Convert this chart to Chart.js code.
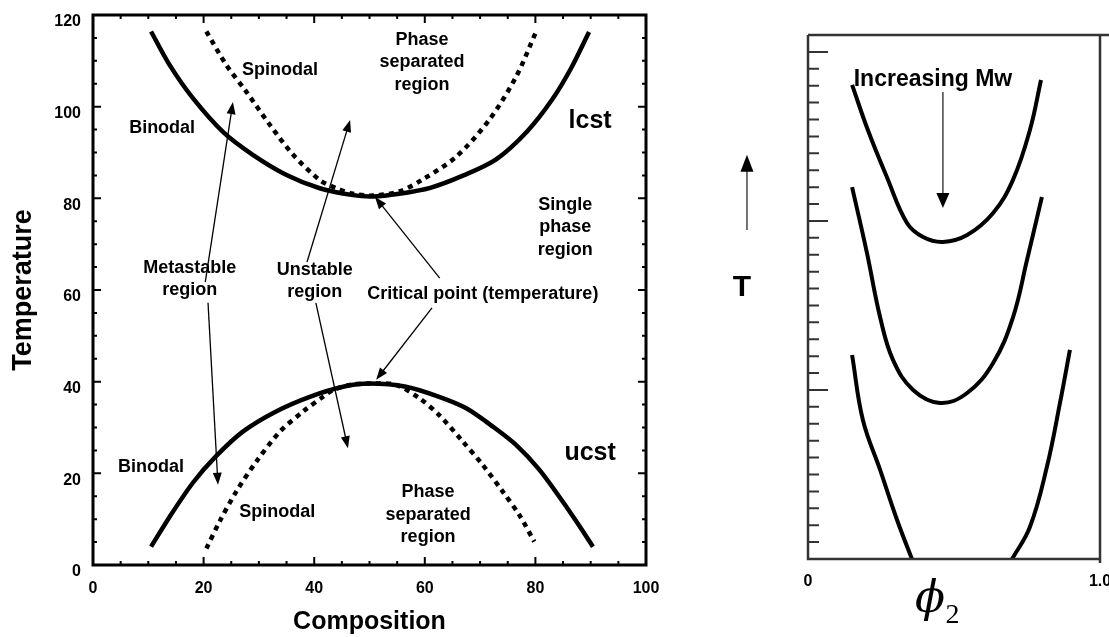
<!DOCTYPE html>
<html>
<head>
<meta charset="utf-8">
<script src="https://cdn.jsdelivr.net/npm/chart.js@4.4.0/dist/chart.umd.min.js"></script>
<style>
html,body{margin:0;padding:0;background:#fff;overflow:hidden;width:1109px;height:637px}
#left{position:absolute;left:0;top:0}
#right{position:absolute;left:700px;top:0}
</style>
</head>
<body>
<canvas id="left" width="700" height="637"></canvas>
<canvas id="right" width="420" height="637"></canvas>
<script>
// tick labels
const compTicks = [0, 20, 40, 60, 80, 100];
const tempTicks = [0, 20, 40, 60, 80, 100, 120];
const phiTicks = ['0', '1.0'];

// left panel curves: [composition, temperature]
const lcstBinodal = [[10.5,116.4],[13.9,109.0],[18.1,101.8],[23.5,94.5],[28.9,89.5],[35.0,85.1],[41.0,82.2],[47.0,80.7],[50.6,80.4],[55.4,81.0],[61,82.3],[67,85.0],[72.9,88.5],[78.5,94.6],[83.0,101.5],[86.5,108.5],[89.7,116.3]];
const lcstSpinodal = [[20.5,116.4],[24.1,109.1],[27.7,103.3],[32.0,96.0],[36.2,89.5],[41.0,84.0],[44.0,82.2],[47,81.0],[50.6,80.6],[55.4,81.5],[59.6,84.1],[65.7,89.1],[71.7,97.2],[76.5,106.5],[80.1,116.3]];
const ucstBinodal = [[10.5,4.0],[13.9,10.6],[18.1,18.0],[22.3,23.8],[27.1,29.1],[33.1,33.5],[39.2,36.7],[45.2,38.9],[50,39.6],[56.6,38.9],[62.6,36.7],[67.5,34.2],[72.3,30.2],[76.5,26.2],[80.7,20.8],[84.9,13.9],[87.9,8.6],[90.4,4.0]];
const ucstSpinodal = [[20.5,3.6],[22.9,9.5],[25.9,16.0],[29.5,22.5],[33.8,29.1],[38.0,33.5],[41.6,36.7],[43.4,38.2],[47,39.4],[50.5,39.6],[54.8,39.3],[59.0,36.4],[62.6,32.7],[66.9,26.9],[70.5,21.8],[74.1,16.0],[77.1,10.9],[79.8,5.1]];

// right panel curves: [phi2, T]
const curveLowMw = [[0.151,2.805],[0.205,2.538],[0.27,2.26],[0.339,1.988],[0.394,1.905],[0.462,1.876],[0.545,1.917],[0.634,2.047],[0.702,2.243],[0.76,2.538],[0.798,2.834]];
const curveMidMw = [[0.151,2.20],[0.202,1.81],[0.247,1.43],[0.291,1.178],[0.36,1.0],[0.452,0.923],[0.545,0.982],[0.634,1.16],[0.702,1.43],[0.75,1.769],[0.801,2.142]];
const curveHighMwL = [[0.151,1.207],[0.188,0.822],[0.247,0.527],[0.305,0.231],[0.356,0]];
const curveHighMwR = [[0.699,0],[0.76,0.189],[0.818,0.544],[0.863,0.923],[0.897,1.237]];

// annotations (data units)
const notesLeft = [
  {text:['Spinodal'], x:33.8, y:108.0, size:18},
  {text:['Binodal'], x:12.5, y:95.4, size:18},
  {text:['Phase','separated','region'], x:59.5, y:114.6, size:18},
  {text:['lcst'], x:89.9, y:96.9, size:25},
  {text:['Single','phase','region'], x:85.4, y:78.6, size:18},
  {text:['Metastable','region'], x:17.5, y:64.8, size:18},
  {text:['Unstable','region'], x:40.1, y:64.4, size:18},
  {text:['Critical point (temperature)'], x:70.5, y:59.1, size:18},
  {text:['Binodal'], x:10.5, y:21.4, size:18},
  {text:['Spinodal'], x:33.3, y:11.6, size:18},
  {text:['Phase','separated','region'], x:60.6, y:15.9, size:18},
  {text:['ucst'], x:89.9, y:24.4, size:25}
];
const arrowsLeft = [
  [20.3,61.7,25.3,101.0],[20.8,57.2,22.6,17.5],
  [38.7,66.1,46.5,97.1],[40.3,57.2,46.1,25.5],
  [62.7,62.6,51.0,80.3],[61.3,56.1,51.2,40.4]
];

const FONT = '"Liberation Sans", Arial, sans-serif';

function pts(arr) {
  return arr.map(p => ({x: p[0], y: p[1]}));
}

function arrow(ctx, x1, y1, x2, y2, len, half) {
  const a = Math.atan2(y2 - y1, x2 - x1);
  const c = Math.cos(a), s = Math.sin(a);
  ctx.beginPath();
  ctx.moveTo(x1, y1);
  ctx.lineTo(x2 - c * len * 0.8, y2 - s * len * 0.8);
  ctx.stroke();
  ctx.beginPath();
  ctx.moveTo(x2, y2);
  ctx.lineTo(x2 - len * c + half * s, y2 - len * s - half * c);
  ctx.lineTo(x2 - len * c - half * s, y2 - len * s + half * c);
  ctx.closePath();
  ctx.fill();
}

const leftDeco = {
  id: 'leftDeco',
  afterDraw(chart) {
    const {ctx, chartArea: a, scales: {x, y}} = chart;
    ctx.save();
    ctx.strokeStyle = '#000';
    ctx.lineWidth = 3;
    ctx.strokeRect(a.left, a.top, a.right - a.left, a.bottom - a.top);
    ctx.lineWidth = 2;
    ctx.beginPath();
    x.ticks.forEach(t => {
      const px = x.getPixelForValue(t.value);
      const len = compTicks.includes(t.value) ? 8 : 4;
      ctx.moveTo(px, a.bottom); ctx.lineTo(px, a.bottom - len);
      ctx.moveTo(px, a.top); ctx.lineTo(px, a.top + len);
    });
    y.ticks.forEach(t => {
      const py = y.getPixelForValue(t.value);
      const len = tempTicks.includes(t.value) ? 8 : 4;
      ctx.moveTo(a.left, py); ctx.lineTo(a.left + len, py);
      ctx.moveTo(a.right, py); ctx.lineTo(a.right - len, py);
    });
    ctx.stroke();

    ctx.fillStyle = '#000';
    ctx.textAlign = 'center';
    ctx.textBaseline = 'middle';
    notesLeft.forEach(n => {
      ctx.font = 'bold ' + n.size + 'px ' + FONT;
      const px = x.getPixelForValue(n.x), py = y.getPixelForValue(n.y);
      n.text.forEach((line, i) => ctx.fillText(line, px, py + i * 22.5));
    });

    ctx.lineWidth = 1.3;
    arrowsLeft.forEach(r => {
      arrow(ctx, x.getPixelForValue(r[0]), y.getPixelForValue(r[1]),
        x.getPixelForValue(r[2]), y.getPixelForValue(r[3]), 12, 4.5);
    });
    ctx.restore();
  }
};

const rightDeco = {
  id: 'rightDeco',
  afterDraw(chart) {
    const {ctx, chartArea: a, scales: {x, y}} = chart;
    ctx.save();
    ctx.strokeStyle = '#333';
    ctx.lineWidth = 2.5;
    ctx.beginPath();
    ctx.moveTo(a.left, a.top); ctx.lineTo(chart.width, a.top);
    ctx.moveTo(a.left, a.top); ctx.lineTo(a.left, a.bottom); ctx.lineTo(a.right, a.bottom);
    ctx.moveTo(a.right, a.top); ctx.lineTo(a.right, a.bottom + 4);
    ctx.stroke();
    ctx.lineWidth = 2;
    ctx.beginPath();
    y.ticks.forEach(t => {
      if (t.value <= 0 || t.value > 3.01) return;
      const py = y.getPixelForValue(t.value);
      const len = Math.abs(t.value - Math.round(t.value)) < 1e-6 ? 20 : 11;
      ctx.moveTo(a.left, py); ctx.lineTo(a.left + len, py);
    });
    ctx.stroke();

    ctx.fillStyle = '#000';
    ctx.textAlign = 'center';
    ctx.textBaseline = 'middle';
    ctx.font = 'bold 23px ' + FONT;
    ctx.fillText('Increasing Mw', x.getPixelForValue(0.428), y.getPixelForValue(2.834));
    ctx.font = 'bold 30px ' + FONT;
    ctx.fillText('T', x.getPixelForValue(-0.226), y.getPixelForValue(1.604));

    ctx.strokeStyle = '#444';
    ctx.fillStyle = '#000';
    ctx.lineWidth = 1.5;
    arrow(ctx, x.getPixelForValue(0.462), y.getPixelForValue(2.763),
      x.getPixelForValue(0.462), y.getPixelForValue(2.077), 15, 6.5);
    arrow(ctx, x.getPixelForValue(-0.209), y.getPixelForValue(1.947),
      x.getPixelForValue(-0.209), y.getPixelForValue(2.391), 17, 6.5);

    // phi_2 axis title
    ctx.font = 'italic 44px "DejaVu Serif", "Liberation Serif", serif';
    ctx.fillText('\u03d5', x.getPixelForValue(0.418), y.getPixelForValue(-0.245));
    ctx.font = '28px "Liberation Serif", "DejaVu Serif", serif';
    ctx.fillText('2', x.getPixelForValue(0.495), y.getPixelForValue(-0.337));
    ctx.restore();
  }
};

const tickFont = {family: FONT, size: 16, weight: 'bold'};

new Chart(document.getElementById('left'), {
  type: 'scatter',
  data: {
    datasets: [
      {label: 'Binodal lcst', data: pts(lcstBinodal), borderWidth: 4.5},
      {label: 'Spinodal lcst', data: pts(lcstSpinodal), borderWidth: 4.5, borderDash: [5, 5]},
      {label: 'Binodal ucst', data: pts(ucstBinodal), borderWidth: 4.5},
      {label: 'Spinodal ucst', data: pts(ucstSpinodal), borderWidth: 4.5, borderDash: [5, 5]}
    ].map(d => Object.assign(d, {showLine: true, borderColor: '#000', pointRadius: 0, tension: 0.3}))
  },
  options: {
    responsive: false,
    animation: false,
    layout: {padding: {top: 15, right: 54, left: 0, bottom: 0}},
    plugins: {legend: {display: false}, tooltip: {enabled: false}},
    scales: {
      x: {
        type: 'linear', min: 0, max: 100,
        afterFit: s => { s.height = 72; },
        grid: {display: false}, border: {display: false},
        ticks: {stepSize: 5, autoSkip: false, maxRotation: 0, padding: 6, color: '#000', font: tickFont,
          callback: v => compTicks.includes(v) ? String(v) : ''},
        title: {display: true, text: 'Composition', color: '#000', padding: {top: 0, bottom: 0},
          font: {family: FONT, size: 25, weight: 'bold'}}
      },
      y: {
        type: 'linear', min: 0, max: 120,
        afterFit: s => { s.width = 93; },
        grid: {display: false}, border: {display: false},
        ticks: {stepSize: 5, autoSkip: false, padding: 4, labelOffset: 7, color: '#000', font: tickFont,
          callback: v => tempTicks.includes(v) ? String(v) : ''},
        title: {display: true, text: 'Temperature', color: '#000', padding: {top: 7, bottom: 0},
          font: {family: FONT, size: 27, weight: 'bold'}}
      }
    }
  },
  plugins: [leftDeco]
});

new Chart(document.getElementById('right'), {
  type: 'scatter',
  data: {
    datasets: [curveLowMw, curveMidMw, curveHighMwL, curveHighMwR].map((c, i) => ({
      label: 'Mw ' + i, data: pts(c), showLine: true, borderColor: '#000',
      borderWidth: 4, pointRadius: 0, tension: 0.4
    }))
  },
  options: {
    responsive: false,
    animation: false,
    layout: {padding: {top: 35, right: 20, left: 0, bottom: 0}},
    plugins: {legend: {display: false}, tooltip: {enabled: false}},
    scales: {
      x: {
        type: 'linear', min: 0, max: 1,
        afterFit: s => { s.height = 78; },
        grid: {display: false}, border: {display: false},
        ticks: {stepSize: 1, autoSkip: false, maxRotation: 0, padding: 5, color: '#000', font: tickFont,
          callback: (v, i) => phiTicks[i]}
      },
      y: {
        type: 'linear', min: 0, max: 3.1,
        afterFit: s => { s.width = 108; },
        grid: {display: false}, border: {display: false},
        ticks: {stepSize: 0.1, autoSkip: false, display: false}
      }
    }
  },
  plugins: [rightDeco]
});
</script>
</body>
</html>
